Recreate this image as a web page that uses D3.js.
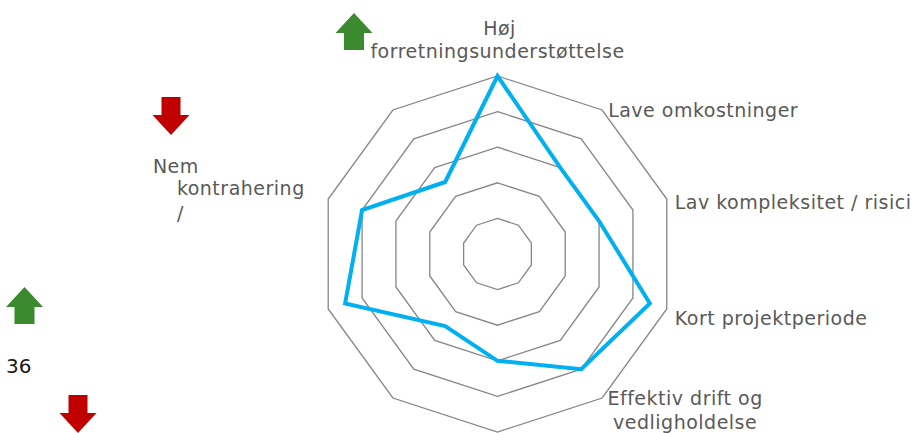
<!DOCTYPE html>
<html>
    <head>
        <meta charset="utf-8">
        <script src="https://cdn.jsdelivr.net/npm/d3@7"></script>
        <style>
            body { margin: 0; background: #fff; }
            text { font-family: "DejaVu Sans", Verdana, sans-serif; }
        </style>
    </head>
    <body>
        <svg id="chart" width="915" height="433"></svg>
        <script>
            // Data
            var categories = [
                ["Høj", "forretningsunderstøttelse"],
                ["Lave omkostninger"],
                ["Lav kompleksitet / risici"],
                ["Kort projektperiode"],
                ["Effektiv drift og", "vedligholdelse"],
                [], [], [], [],
                ["Nem", "kontrahering", "/"]
            ];
            var values = [5, 3, 3, 4.5, 4, 3, 2.5, 4.5, 4, 2.5];
            var ringLevels = [1, 2, 3, 4, 5];
            var sideNumber = "36";
            var arrowDirections = ["up", "down", "up", "down"];

            // Layout
            var cx = 497.5, cy = 254, R = 178;
            var svg = d3.select("svg#chart");
            var g = svg.append("g").attr("transform", "translate(" + cx + "," + cy + ")");

            var r = d3.scaleLinear().domain([0, 5]).range([0, R]);
            var angle = d3.scaleLinear().domain([0, categories.length]).range([0, 2 * Math.PI]);

            // Rings (decagons)
            var ringLine = d3.lineRadial()
                .angle(function(d, i) { return angle(i); })
                .radius(function(d) { return r(d); })
                .curve(d3.curveLinearClosed);

            g.selectAll("path.ring").data(ringLevels).enter().append("path")
                .attr("class", "ring")
                .attr("d", function(lv) { return ringLine(categories.map(function() { return lv; })); })
                .attr("fill", "none").attr("stroke", "#868686").attr("stroke-width", 1.3);

            // Series
            g.append("path").datum(values)
                .attr("d", ringLine)
                .attr("fill", "none").attr("stroke", "#00B0F0").attr("stroke-width", 4)
                .attr("stroke-linejoin", "miter");

            // Axis labels: offsets from the outer vertex of each axis
            var labelLayout = {
                0: {anchor: "middle", dx: [2, 0], dy: -41.5, lh: 23},
                1: {anchor: "start", dx: [6], dy: 7, lh: 23},
                2: {anchor: "start", dx: [8], dy: 10, lh: 23},
                3: {anchor: "start", dx: [8], dy: 16, lh: 23},
                4: {anchor: "middle", dx: [83, 83], dy: 7, lh: 23.5},
                9: {anchor: "start", dx: [-240, -216, -216], dy: 63, lh: [0, 22, 47]}
            };

            function vertex(i) {
                var a = angle(i);
                return [r(5) * Math.sin(a), -r(5) * Math.cos(a)];
            }

            categories.forEach(function(lines, i) {
                var lay = labelLayout[i];
                if (!lay || lines.length === 0) return;
                var p = vertex(i);
                lines.forEach(function(t, k) {
                    var off = Array.isArray(lay.lh) ? lay.lh[k] : k * lay.lh;
                    g.append("text")
                        .attr("x", p[0] + lay.dx[k])
                        .attr("y", p[1] + lay.dy + off)
                        .attr("text-anchor", lay.anchor)
                        .attr("fill", "#595959")
                        .style("font-size", "19px")
                        .style("letter-spacing", "0.5px")
                        .text(t);
                });
            });

            // Arrow markers
            var arrowLayout = [
                {x: 354, y: 13},
                {x: 171, y: 97},
                {x: 24.5, y: 287},
                {x: 78, y: 395}
            ];
            var arrowUp = "M0,0 L18.5,20 L10,20 L10,37 L-10,37 L-10,20 L-18.5,20 Z";
            var arrowDown = "M-9.5,0 L9.5,0 L9.5,18 L18.5,18 L0,38 L-18.5,18 L-9.5,18 Z";
            svg.selectAll("path.arrow").data(arrowDirections).enter().append("path")
                .attr("class", "arrow")
                .attr("transform", function(d, i) { return "translate(" + arrowLayout[i].x + "," + arrowLayout[i].y + ")"; })
                .attr("d", function(d) { return d === "up" ? arrowUp : arrowDown; })
                .attr("fill", function(d) { return d === "up" ? "#3B8A2F" : "#C00000"; });

            svg.append("text").attr("x", 6).attr("y", 373)
                .attr("fill", "#1a1a1a").style("font-size", "20px")
                .text(sideNumber);
        </script>
    </body>
</html>
